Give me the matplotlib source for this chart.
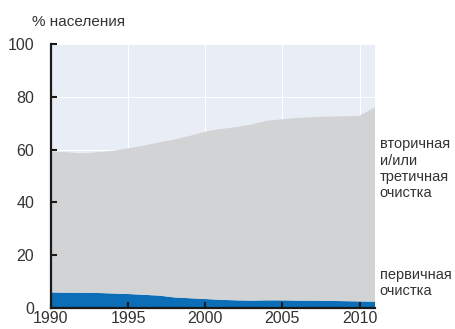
import numpy as np
import matplotlib
matplotlib.use("Agg")
import matplotlib.pyplot as plt

plt.rcParams['font.family'] = ['Liberation Sans', 'DejaVu Sans']

years = list(range(1990, 2012))
# share of population connected to treatment, %
primary = [5.9, 5.8, 5.8, 5.7, 5.5, 5.3, 5.0, 4.7, 4.0, 3.7, 3.4, 3.1, 2.9, 2.8, 2.9, 2.9,
           2.8, 2.8, 2.7, 2.6, 2.5, 2.4]
total = [59.2, 59.0, 58.6, 59.0, 59.5, 60.5, 61.5, 62.7, 63.8, 65.2, 66.8, 67.8, 68.5,
         69.5, 70.9, 71.5, 72.0, 72.3, 72.5, 72.6, 72.8, 76.0]
secondary = [t - p for t, p in zip(total, primary)]

x_ticks = [1990, 1995, 2000, 2005, 2010]
y_ticks = [0, 20, 40, 60, 80, 100]
y_title = "% населения"
label_secondary = "вторичная\nи/или\nтретичная\nочистка"
label_primary = "первичная\nочистка"

text_color = "#333333"
blue = "#0B6EB6"
grey = "#D1D3D5"
bg = "#E8EDF6"

fig = plt.figure(figsize=(4.56, 3.29), dpi=100)
ax = fig.add_axes([0.1118, 0.0638, 0.7106, 0.8025])
ax.set_facecolor(bg)

ax.stackplot(years, primary, secondary, colors=[blue, grey], linewidth=0, zorder=1)

ax.set_xlim(1990, 2011)
ax.set_ylim(0, 100)
ax.set_xticks(x_ticks)
ax.set_yticks(y_ticks)

# white grid sits behind the filled areas; ticks stay on top
for xv in x_ticks:
    ax.axvline(xv, color="white", linewidth=0.8, zorder=0.5)
for yv in y_ticks:
    ax.axhline(yv, color="white", linewidth=0.8, zorder=0.5)

for s in ["top", "right"]:
    ax.spines[s].set_visible(False)
for s in ["left", "bottom"]:
    ax.spines[s].set_linewidth(1.6)
    ax.spines[s].set_color("#1a1a1a")
    ax.spines[s].set_zorder(5)

ax.tick_params(axis="both", direction="in", length=4, width=1.5, color="#1a1a1a",
               labelsize=11.5, labelcolor=text_color)
ax.tick_params(axis="y", pad=12)
ax.tick_params(axis="x", pad=2)

fig.text(0.07, 0.932, y_title, fontsize=11, color=text_color, ha="left", va="center")
fig.text(0.833, 0.487, label_secondary, fontsize=10.5, color=text_color, ha="left",
         va="center", linespacing=1.2)
fig.text(0.833, 0.14, label_primary, fontsize=10.5, color=text_color, ha="left",
         va="center", linespacing=1.2)

fig.savefig("out.png", dpi=100)
